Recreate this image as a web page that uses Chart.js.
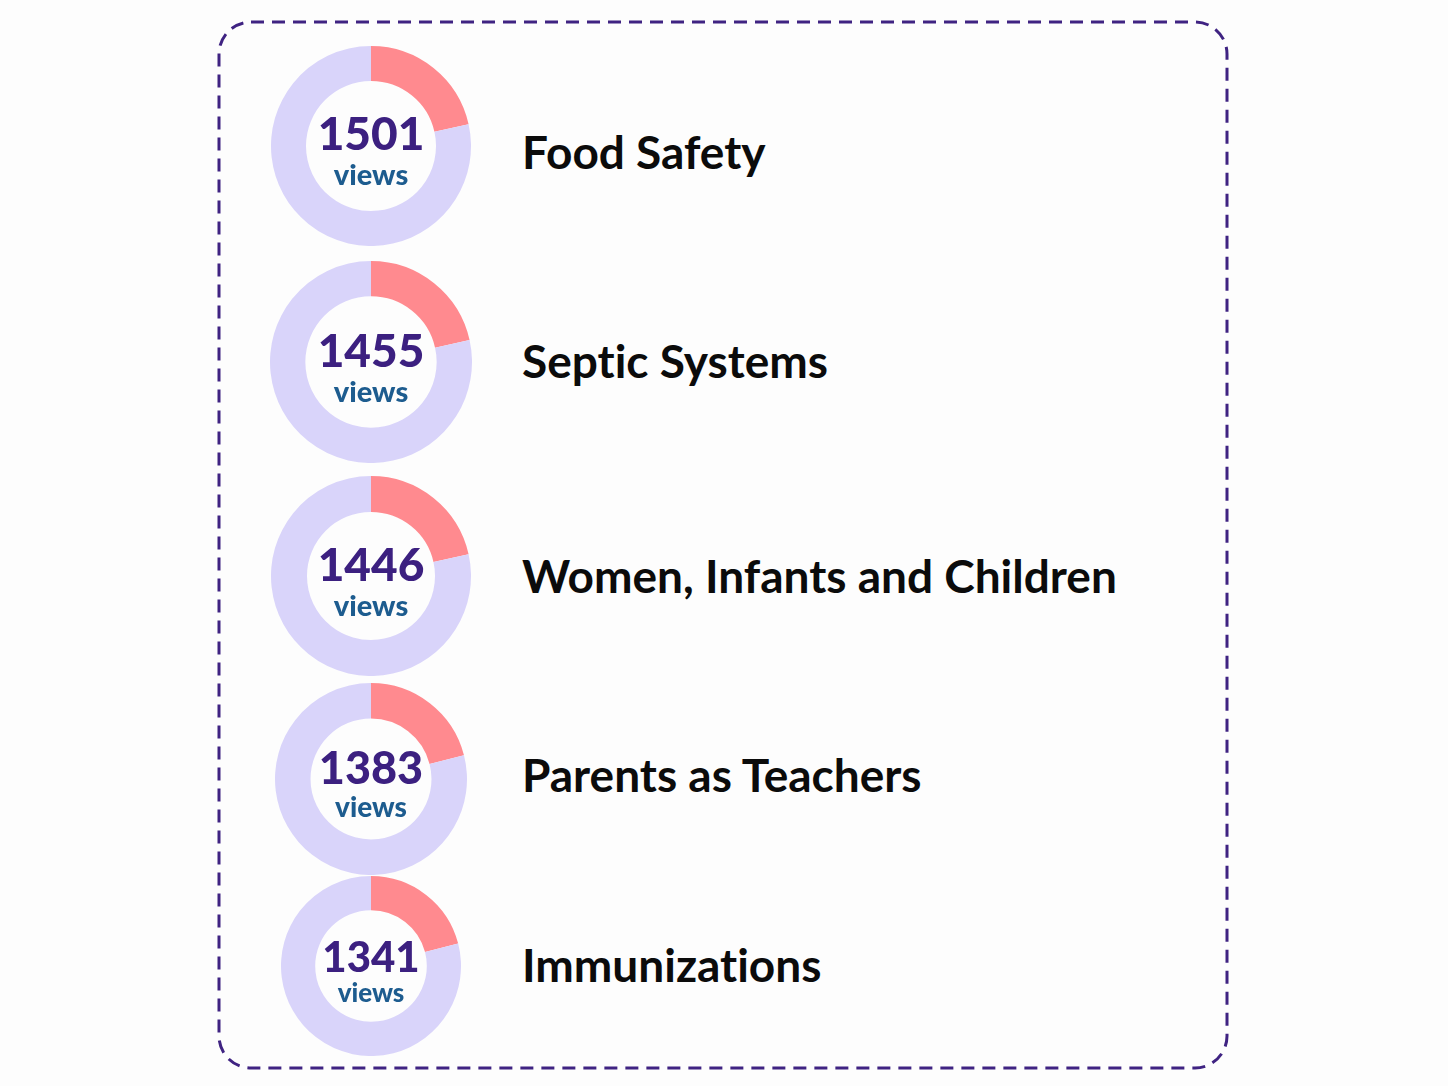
<!DOCTYPE html>
<html>
<head>
<meta charset="utf-8">
<script src="https://cdn.jsdelivr.net/npm/chart.js@4.4.0/dist/chart.umd.min.js"></script>
<style>
  html, body { margin: 0; padding: 0; background: #fdfdfd; }
  #stage { position: relative; width: 1448px; height: 1086px; overflow: hidden; }
  #frame { position: absolute; left: 0; top: 0; }
  .ring { position: absolute; }
  .txt { position: absolute; line-height: 1; white-space: nowrap; font-family: "Lato", sans-serif; font-variant-ligatures: none; }
  .hole { width: 160px; text-align: center; font-weight: 900; }
  .num { display: block; color: #3c2080; }
  .views { display: block; color: #1d5c8f; }
  .topic { left: 522px; font-weight: 700; color: #0b0b0b; transform: translateY(-50%); }
</style>
</head>
<body>
<div id="stage">
  <svg id="frame" width="1448" height="1086">
    <rect x="219" y="22" width="1008" height="1046" rx="32" ry="32" fill="none" stroke="#3f2382" stroke-width="3" stroke-dasharray="13 8"/>
  </svg>
</div>
<script>
// topics and their view counts
const topics = ['Food Safety', 'Septic Systems', 'Women, Infants and Children', 'Parents as Teachers', 'Immunizations'];
const views = [1501, 1455, 1446, 1383, 1341];
// share of the ring shown in red (percent)
const highlight = [21.5, 21.5, 21.5, 21, 21];

// where each ring sits and how big it is
const centersY = [146, 362, 576, 779, 966];
const labelY = [153, 362, 577, 776, 966];
const radii = [100, 101, 100, 96, 90];
const cutouts = ['65%', '65%', '64%', '63%', '62%'];
const numSize = [46, 46, 46, 45, 42];
const viewSize = [29, 29, 29, 28, 26];
const numOff = [-12, -11, -11, -10, -9];
const viewOff = [31, 32, 32, 31, 29.5];

const stage = document.getElementById('stage');

topics.forEach((t, i) => {
    let r = radii[i];
    let cx = 371, cy = centersY[i];

    let canvas = document.createElement('canvas');
    canvas.className = 'ring';
    canvas.width = r * 2;
    canvas.height = r * 2;
    canvas.style.left = (cx - r) + 'px';
    canvas.style.top = (cy - r) + 'px';
    stage.appendChild(canvas);

    new Chart(canvas, {
        type: 'doughnut',
        data: {
            labels: [t, 'other'],
            datasets: [{
                data: [highlight[i], 100 - highlight[i]],
                backgroundColor: ['#ff8a8f', '#d9d4fa'],
                borderWidth: 0
            }]
        },
        options: {
            responsive: false,
            animation: false,
            cutout: cutouts[i],
            layout: { padding: 0 },
            plugins: { legend: { display: false }, tooltip: { enabled: false } }
        }
    });

    // number and "views" in the hole (one block, lines packed tight like the original)
    let hole = document.createElement('div');
    hole.className = 'txt hole';
    hole.style.left = (cx - 80) + 'px';
    // digit centre sits ~0.53em below the top of a 1em line for Lato
    let numTop = cy + numOff[i] - 0.53 * numSize[i];
    let viewTop = cy + viewOff[i] - 0.63 * viewSize[i];
    hole.style.top = numTop + 'px';
    hole.innerHTML = '<span class="num" style="font-size:' + numSize[i] + 'px;height:' + (viewTop - numTop) + 'px">' + views[i] + '</span>' +
                     '<span class="views" style="font-size:' + viewSize[i] + 'px">views</span>';
    stage.appendChild(hole);

    let lab = document.createElement('div');
    lab.className = 'txt topic';
    lab.style.top = (labelY[i] - 1) + 'px';
    lab.style.fontSize = '46px';
    lab.textContent = t;
    stage.appendChild(lab);
});
</script>
</body>
</html>
